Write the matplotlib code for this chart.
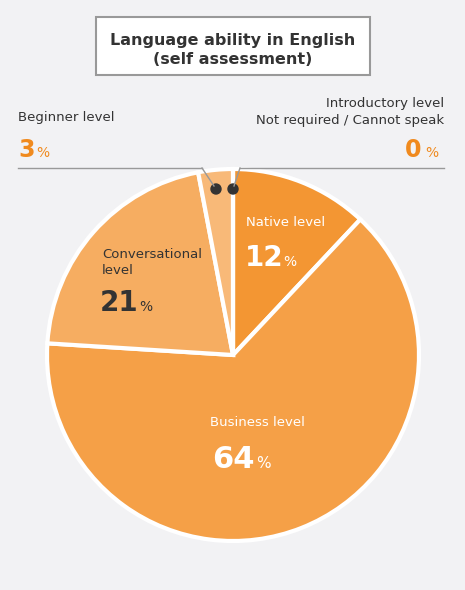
import matplotlib
matplotlib.use("Agg")
import matplotlib.pyplot as plt
from matplotlib.patches import Ellipse

categories = ["Native level", "Business level", "Conversational\nlevel", "Beginner level", "Introductory level\nNot required / Cannot speak"]
values = [12, 64, 21, 3, 0]
colors = ["#F39633", "#F5A047", "#F6AD61", "#F8B978", "#F9C58F"]

W, H = 465, 590
fig = plt.figure(figsize=(W/100, H/100), dpi=100)
fig.patch.set_facecolor("#F2F2F4")
cx, cy, r = 233, 355, 186
ax = fig.add_axes([(cx-r)/W, (H-cy-r)/H, 2*r/W, 2*r/H])
ax.set_facecolor("none")
ax.pie(values, colors=colors, startangle=90, counterclock=False,
       wedgeprops=dict(edgecolor="white", linewidth=3))
ax.set_xlim(-1, 1); ax.set_ylim(-1, 1); ax.set_aspect("auto"); ax.axis("off")

def px(x, y):
    return x/W, 1-y/H

orange = "#F08A1E"; dark = "#333333"
fig.patches.append(plt.Rectangle(px(96, 75), 274/W, 58/H, transform=fig.transFigure,
                                 facecolor="white", edgecolor="#999999", lw=1.5))
fig.text(*px(233, 50), "Language ability in English\n(self assessment)", ha="center", va="center",
         fontsize=11.5, fontweight="bold", color=dark, linespacing=1.3)

fig.text(*px(18, 118), categories[3], fontsize=9.5, color=dark, va="center")
fig.text(*px(18, 150), f"{values[3]}", fontsize=17, fontweight="bold", color=orange, va="center")
fig.text(*px(36, 153), "%", fontsize=10, color=orange, va="center")
fig.text(*px(444, 112), categories[4], fontsize=9.5, color=dark, va="center", ha="right", linespacing=1.4)
fig.text(*px(405, 150), f"{values[4]}", fontsize=17, fontweight="bold", color=orange, va="center")
fig.text(*px(425, 153), "%", fontsize=10, color=orange, va="center")

fig.add_artist(plt.Line2D([18/W, 202/W], [1-168/H]*2, color="#999999", lw=1))
fig.add_artist(plt.Line2D([202/W, 214/W], [1-168/H, 1-186/H], color="#999999", lw=1))
fig.add_artist(plt.Line2D([240/W, 444/W], [1-168/H]*2, color="#999999", lw=1))
fig.add_artist(plt.Line2D([240/W, 234/W], [1-168/H, 1-186/H], color="#999999", lw=1))
for x in (216, 233):
    fig.add_artist(Ellipse(px(x, 189), 10/W, 10/H, transform=fig.transFigure, color=dark))

fig.text(*px(246, 222), categories[0], fontsize=9.5, color="white", va="center")
fig.text(*px(245, 258), f"{values[0]}", fontsize=20, fontweight="bold", color="white", va="center")
fig.text(*px(283, 262), "%", fontsize=10, color="white", va="center")
fig.text(*px(102, 263), categories[2], fontsize=9.5, color=dark, va="center", linespacing=1.3)
fig.text(*px(100, 303), f"{values[2]}", fontsize=20, fontweight="bold", color=dark, va="center")
fig.text(*px(139, 307), "%", fontsize=10, color=dark, va="center")
fig.text(*px(257, 423), categories[1], fontsize=9.5, color="white", va="center", ha="center")
fig.text(*px(212, 460), f"{values[1]}", fontsize=22, fontweight="bold", color="white", va="center")
fig.text(*px(256, 464), "%", fontsize=11, color="white", va="center")

fig.savefig("out.png", dpi=100, facecolor=fig.get_facecolor())
